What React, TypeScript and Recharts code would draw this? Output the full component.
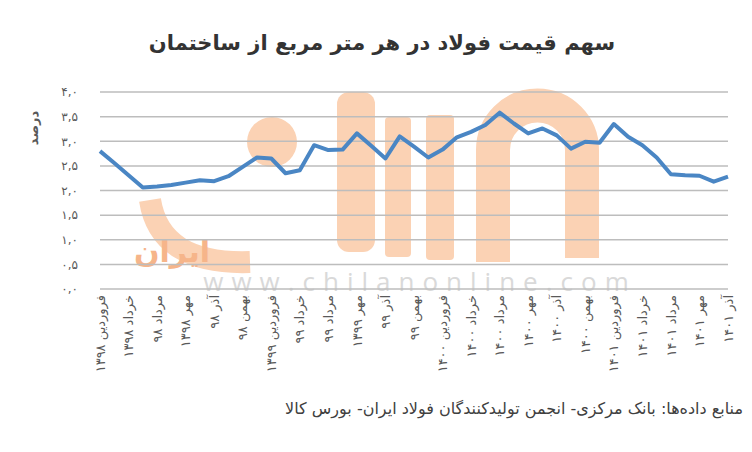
import React from 'react';
import { LineChart, Line, XAxis, YAxis, CartesianGrid } from 'recharts';

const months = [
  'فروردین ۱۳۹۸', 'اردیبهشت ۹۸', 'خرداد ۱۳۹۸', 'تیر ۹۸', 'مرداد ۹۸', 'شهریور ۹۸',
  'مهر ۱۳۹۸', 'آبان ۹۸', 'آذر ۹۸', 'دی ۹۸', 'بهمن ۹۸', 'اسفند ۹۸',
  'فروردین ۱۳۹۹', 'اردیبهشت ۹۹', 'خرداد ۹۹', 'تیر ۹۹', 'مرداد ۹۹', 'شهریور ۹۹',
  'مهر ۱۳۹۹', 'آبان ۹۹', 'آذر ۹۹', 'دی ۹۹', 'بهمن ۹۹', 'اسفند ۹۹',
  'فروردین ۱۴۰۰', 'اردیبهشت ۱۴۰۰', 'خرداد ۱۴۰۰', 'تیر ۱۴۰۰', 'مرداد ۱۴۰۰', 'شهریور ۱۴۰۰',
  'مهر ۱۴۰۰', 'آبان ۱۴۰۰', 'آذر ۱۴۰۰', 'دی ۱۴۰۰', 'بهمن ۱۴۰۰', 'اسفند ۱۴۰۰',
  'فروردین ۱۴۰۱', 'اردیبهشت ۱۴۰۱', 'خرداد ۱۴۰۱', 'تیر ۱۴۰۱', 'مرداد ۱۴۰۱', 'شهریور ۱۴۰۱',
  'مهر ۱۴۰۱', 'آبان ۱۴۰۱', 'آذر ۱۴۰۱',
];

const steelShare = [
  2.80, 2.56, 2.31, 2.06, 2.08, 2.11, 2.16, 2.21, 2.19, 2.29, 2.48, 2.67,
  2.65, 2.35, 2.41, 2.92, 2.82, 2.83, 3.16, 2.91, 2.65, 3.10, 2.89, 2.67,
  2.83, 3.08, 3.19, 3.33, 3.58, 3.36, 3.16, 3.26, 3.12, 2.85, 2.99, 2.97,
  3.35, 3.09, 2.92, 2.67, 2.33, 2.31, 2.30, 2.18, 2.28,
];

const yTicks = [0, 0.5, 1, 1.5, 2, 2.5, 3, 3.5, 4];
const yTickLabels = ['۰,۰', '۰,۵', '۱,۰', '۱,۵', '۲,۰', '۲,۵', '۳,۰', '۳,۵', '۴,۰'];

const title = 'سهم قیمت فولاد در هر متر مربع از ساختمان';
const yTitle = 'درصد';
const source = 'منابع داده‌ها: بانک مرکزی- انجمن تولیدکنندگان فولاد ایران- بورس کالا';
const watermark = 'www.chilanonline.com';
const logoWord = 'ایران';

const data = months.map((m, i) => ({ month: m, value: steelShare[i] }));

const FONT = '"DejaVu Sans", sans-serif';
const TXT = '#595959';
const LOGO = '#fbd2b4';

const XTick = (props: any) => {
  const { x, y, payload } = props;
  return (
    <text
      x={x}
      y={y}
      transform={`rotate(-90 ${x} ${y})`}
      textAnchor="end"
      dy="0.36em"
      fontSize={13}
      letterSpacing={2.5}
      fill={TXT}
      fontFamily={FONT}
    >
      {payload.value}
    </text>
  );
};

const YTick = (props: any) => {
  const { x, y, payload } = props;
  const idx = yTicks.indexOf(payload.value);
  return (
    <text x={x} y={y} textAnchor="end" dy="0.36em" fontSize={12} fill={TXT} fontFamily={FONT}>
      {yTickLabels[idx]}
    </text>
  );
};

export default function App() {
  return (
    <div style={{ position: 'absolute', left: 0, top: 0, width: 752, height: 452, background: '#ffffff', overflow: 'hidden' }}>
      <svg width={752} height={452} style={{ position: 'absolute', left: 0, top: 0 }}>
        {/* faint site watermark (logo) */}
        <g fill={LOGO} stroke="none">
          <path d="M 493 262 L 493 150 A 44.5 44.5 0 0 1 582 150 L 582 258" fill="none" stroke={LOGO} strokeWidth={34} />
          <rect x={426} y={115} width={28} height={145} rx={4} />
          <rect x={385} y={117} width={26} height={140} rx={4} />
          <rect x={337} y={92} width={38} height={160} rx={12} />
          <circle cx={272} cy={142} r={25} />
          <path d="M 150 200 Q 160 265 250 262" fill="none" stroke={LOGO} strokeWidth={22} />
        </g>
        <text x={172} y={262} textAnchor="middle" fontSize={30} fontWeight="bold" fill="#f6b58a" fontFamily={FONT}>
          {logoWord}
        </text>
        <text
          x={420}
          y={291}
          textAnchor="middle"
          fontSize={26}
          fill="#d9d9d9"
          fontFamily='"Open Sans", sans-serif'
          letterSpacing={8}
        >
          {watermark}
        </text>
      </svg>
      <div style={{ position: 'absolute', left: 0, top: 0 }}>
        <LineChart
          width={752}
          height={452}
          data={data}
          margin={{ top: 92, right: 24, bottom: 103, left: 60 }}
        >
          <CartesianGrid vertical={false} stroke="#bdbdbd" strokeWidth={1.5} />
          <XAxis
            dataKey="month"
            interval={1}
            axisLine={false}
            tickLine={false}
            tickSize={0}
            tickMargin={6}
            height={60}
            tick={<XTick />}
          />
          <YAxis
            domain={[0, 4]}
            ticks={yTicks}
            width={40}
            axisLine={false}
            tickLine={false}
            tickSize={0}
            tickMargin={22}
            tick={<YTick />}
          />
          <Line
            type="linear"
            dataKey="value"
            stroke="#4a86c4"
            strokeWidth={4}
            dot={false}
            activeDot={false}
            strokeLinejoin="round"
            isAnimationActive={false}
          />
        </LineChart>
      </div>
      <svg width={752} height={452} style={{ position: 'absolute', left: 0, top: 0, pointerEvents: 'none' }}>
        <text x={382} y={50} textAnchor="middle" fontSize={21} fontWeight="bold" fill="#333333" fontFamily={FONT}>
          {title}
        </text>
        <text
          x={33}
          y={128}
          transform="rotate(-90 33 128)"
          textAnchor="middle"
          dy="0.36em"
          fontSize={13}
          fontWeight="bold"
          fill={TXT}
          fontFamily={FONT}
        >
          {yTitle}
        </text>
        <text x={743} y={414} textAnchor="end" fontSize={16} fill="#404040" fontFamily={FONT}>
          {source}
        </text>
      </svg>
    </div>
  );
}
